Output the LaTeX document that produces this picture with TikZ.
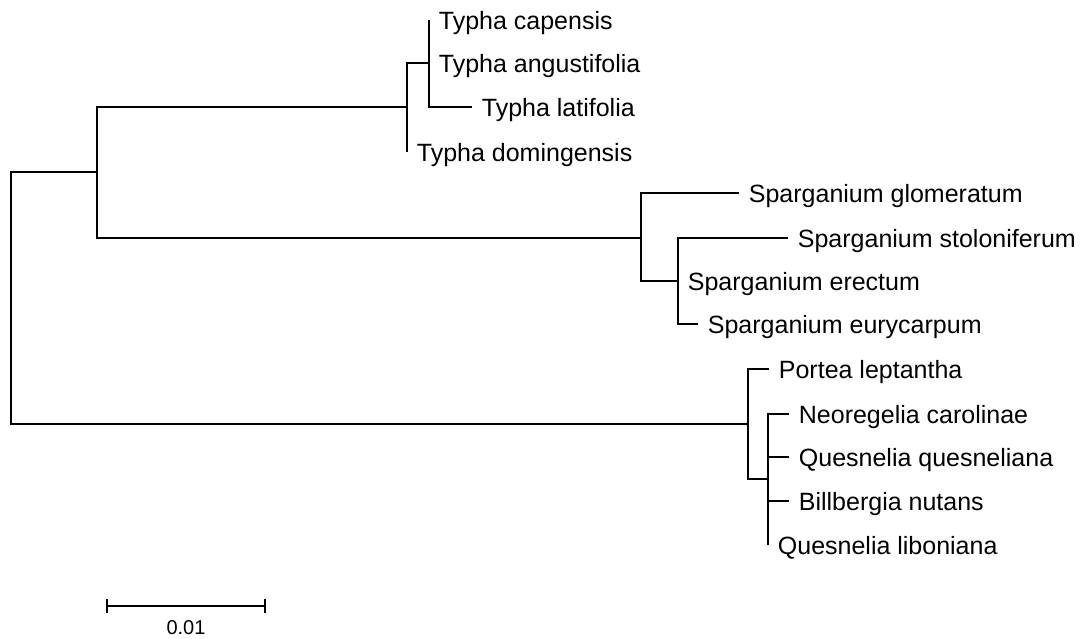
\documentclass[tikz,border=0pt]{standalone}
\usepackage{fontspec}
\setmainfont{Liberation Sans}
\begin{document}
\begin{tikzpicture}[x=1pt, y=-1pt, line width=1.8pt,
    taxon/.style={anchor=base west, inner sep=0pt, xshift=9pt, yshift=-9pt,
                  font=\fontsize{25}{30}\selectfont}]
            \useasboundingbox (0,0) rectangle (1081,638);
            % inner nodes
            \coordinate (root) at (11,298);
            \coordinate (cA) at (97,172);
            \coordinate (cT) at (407,107);
            \coordinate (cT2) at (429,63);
            \coordinate (cS) at (641,238);
            \coordinate (cS2) at (678,281);
            \coordinate (cB) at (748,424);
            \coordinate (cB2) at (768,479);
            % tips
            \coordinate (tCap) at (429,20);
            \coordinate (tAng) at (429,63);
            \coordinate (tLat) at (472,107);
            \coordinate (tDom) at (407,152);
            \coordinate (tGlo) at (739,193);
            \coordinate (tSto) at (788,238);
            \coordinate (tEre) at (678,281);
            \coordinate (tEur) at (698,324);
            \coordinate (tPor) at (769,369);
            \coordinate (tNeo) at (789,414);
            \coordinate (tQqu) at (789,457);
            \coordinate (tBil) at (789,501);
            \coordinate (tQli) at (768,545);
            % branches
            \draw (cA) -| (root) |- (cB);
            \draw (cT) -| (cA) |- (cS);
            \draw (cT2) -| (cT) |- (tDom);
            \draw (tCap) -| (cT2) |- (tLat);
            \draw (tGlo) -| (cS) |- (cS2);
            \draw (tSto) -| (cS2) |- (tEur);
            \draw (tPor) -| (cB) |- (cB2);
            \draw (tNeo) -| (cB2) |- (tQli);
            \foreach \t in {tQqu,tBil}
            \draw (cB2 |- \t) -- (\t);
            % labels
            \node[taxon] (lCap) at (tCap) {Typha capensis};
            \node[taxon] (lAng) at (tAng) {Typha angustifolia};
            \node[taxon] (lLat) at (tLat) {Typha latifolia};
            \node[taxon] (lDom) at (tDom) {Typha domingensis};
            \node[taxon] (lGlo) at (tGlo) {Sparganium glomeratum};
            \node[taxon] (lSto) at (tSto) {Sparganium stoloniferum};
            \node[taxon] (lEre) at (tEre) {Sparganium erectum};
            \node[taxon] (lEur) at (tEur) {Sparganium eurycarpum};
            \node[taxon] (lPor) at (tPor) {Portea leptantha};
            \node[taxon] (lNeo) at (tNeo) {Neoregelia carolinae};
            \node[taxon] (lQqu) at (tQqu) {Quesnelia quesneliana};
            \node[taxon] (lBil) at (tBil) {Billbergia nutans};
            \node[taxon] (lQli) at (tQli) {Quesnelia liboniana};
            % scale bar
            \coordinate (sbL) at (107,606);
            \coordinate (sbR) at (265,606);
            \draw (sbL) -- (sbR);
            \draw ([yshift=7pt]sbL) -- ([yshift=-7pt]sbL);
            \draw ([yshift=7pt]sbR) -- ([yshift=-7pt]sbR);
            \node[font=\fontsize{20}{24}\selectfont, inner sep=0pt] (sbLab) at (186,628) {0.01};
        \end{tikzpicture}
\end{document}
